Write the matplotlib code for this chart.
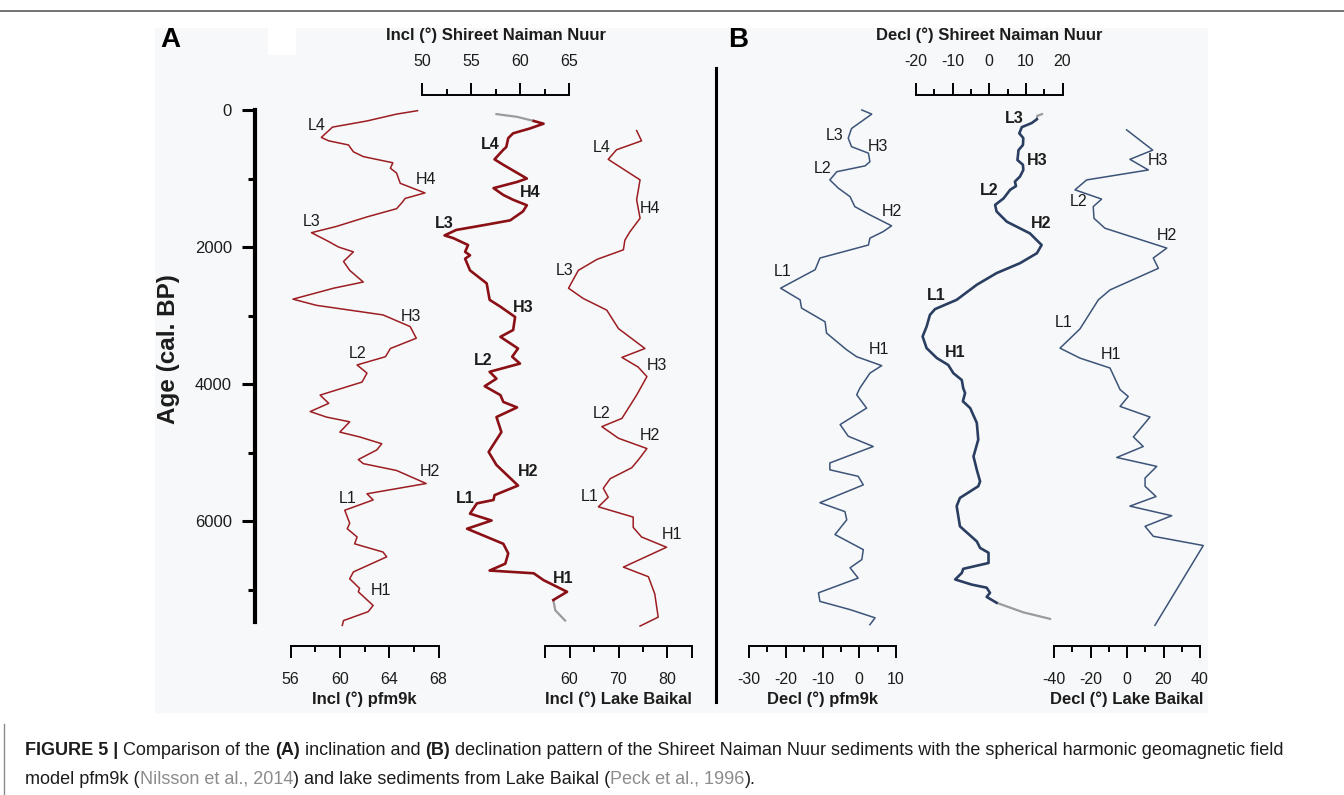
import matplotlib
matplotlib.use("Agg")
import matplotlib.pyplot as plt
from matplotlib.patches import Rectangle
from matplotlib.lines import Line2D
from matplotlib.transforms import blended_transform_factory, IdentityTransform

plt.rcParams['font.family'] = ['Liberation Sans', 'DejaVu Sans']

W, H = 1344, 795
AGE_MAX = 7500
Y_TOP, Y_BOT = 110, 624   # pixel rows of age 0 and AGE_MAX

# ---------------- data ----------------
# A: inclination, pfm9k model
pfm_incl_age = [10, 60, 160, 250, 300, 400, 450, 510, 610, 680, 770, 850, 920, 1070,
                1210, 1290, 1360, 1440, 1560, 1700, 1790, 1920, 2000, 2070, 2210, 2340,
                2510, 2600, 2760, 2850, 2990, 3160, 3330, 3480, 3600, 3720, 3840, 3970,
                4160, 4280, 4400, 4480, 4550, 4700, 4770, 4870, 4960, 5100, 5160, 5260,
                5450, 5600, 5690, 5840, 6030, 6110, 6230, 6330, 6450, 6520, 6740, 6840,
                6980, 7030, 7230, 7320, 7450, 7520]
pfm_incl = [66.3, 64.6, 62.2, 59.4, 59.1, 58.5, 59.1, 60.7, 61.1, 61.9, 64.3, 64.1, 64.6, 64.9,
            66.9, 65.3, 65.0, 64.6, 62.2, 59.7, 57.7, 59.1, 59.9, 61.1, 60.3, 60.8,
            61.9, 59.5, 56.2, 58.1, 63.5, 65.7, 66.2, 64.1, 63.7, 61.4, 62.2, 61.8,
            58.4, 59.1, 57.6, 58.9, 60.8, 60.0, 61.6, 63.4, 63.0, 61.5, 61.9, 64.6,
            67.0, 62.2, 62.7, 60.4, 60.8, 60.6, 61.4, 61.2, 63.5, 63.8, 61.1, 60.8,
            61.6, 61.5, 62.7, 62.3, 60.3, 60.2]
pfm_incl_marks = [("L4", 58.1, 220), ("H4", 67.0, 1020), ("L3", 57.7, 1630), ("H3", 65.8, 3010),
                  ("L2", 61.4, 3560), ("H2", 67.3, 5280), ("L1", 60.6, 5670), ("H1", 63.3, 7010)]

# A: inclination, Shireet Naiman Nuur
sn_incl_age = [160, 200, 270, 340, 410, 540, 580, 720, 800, 1000, 1050, 1140, 1240, 1310,
               1390, 1480, 1610, 1680, 1750, 1830, 1870, 1970, 2070, 2120, 2170, 2340,
               2530, 2770, 2870, 3020, 3210, 3310, 3480, 3600, 3700, 3820, 3920, 4030,
               4160, 4260, 4340, 4480, 4700, 4990, 5180, 5480, 5620, 5690, 5740, 5890,
               5990, 6110, 6330, 6470, 6620, 6720, 6760, 6860, 7030, 7150]
sn_incl = [61.4, 62.4, 61.0, 59.3, 58.8, 58.6, 58.3, 57.4, 58.3, 60.7, 59.7, 57.3, 58.3, 59.3,
           60.7, 60.3, 59.0, 56.3, 53.5, 52.3, 53.2, 54.7, 54.4, 54.9, 54.4, 54.9,
           56.6, 56.9, 58.0, 59.5, 59.3, 58.0, 59.8, 59.2, 60.0, 56.9, 57.6, 56.4,
           58.0, 58.3, 59.7, 57.6, 58.1, 56.8, 57.6, 59.8, 57.4, 57.3, 55.6, 54.9,
           57.1, 54.6, 58.3, 58.8, 58.5, 56.9, 61.4, 62.4, 64.8, 63.4]
sn_incl_top_age = [60, 100, 160]
sn_incl_top = [57.6, 59.7, 61.4]
sn_incl_bot_age = [7150, 7300, 7450]
sn_incl_bot = [63.4, 63.6, 64.6]
sn_incl_marks = [("L4", 57.0, 500), ("H4", 61.0, 1210), ("L3", 52.3, 1650), ("H3", 60.3, 2880),
                 ("L2", 56.2, 3660), ("H2", 60.8, 5280), ("L1", 54.4, 5670), ("H1", 64.4, 6830)]

# A: inclination, Lake Baikal
bk_incl_age = [300, 450, 580, 720, 1020, 1310, 1580, 1780, 1900, 2040, 2180, 2340, 2600,
               2750, 2920, 3190, 3480, 3610, 3750, 3890, 4160, 4500, 4620, 4790, 4940,
               5110, 5220, 5380, 5520, 5650, 5790, 5940, 6090, 6230, 6380, 6670, 6810,
               7060, 7400, 7530]
bk_incl = [73.7, 74.7, 69.6, 67.9, 74.4, 73.7, 74.4, 72.3, 71.3, 71.0, 65.6, 61.8, 59.8,
           62.8, 67.6, 70.0, 75.4, 70.7, 74.0, 75.8, 73.7, 70.7, 66.6, 70.0, 75.8,
           74.0, 72.7, 68.3, 66.9, 67.9, 65.9, 73.0, 73.0, 74.7, 79.8, 71.0, 76.1,
           77.4, 78.1, 74.4]
bk_incl_marks = [("L4", 66.6, 540), ("H4", 76.4, 1440), ("L3", 59.1, 2340), ("H3", 77.8, 3730),
                 ("L2", 66.6, 4430), ("H2", 76.4, 4750), ("L1", 64.2, 5640), ("H1", 80.9, 6190)]

# B: declination, pfm9k model
pfm_decl_age = [0, 60, 270, 410, 535, 630, 755, 815, 900, 1020, 1140, 1265, 1410, 1530,
                1690, 1775, 1870, 1970, 2160, 2330, 2600, 2770, 2890, 3090, 3255, 3500,
                3600, 3730, 3840, 4055, 4155, 4350, 4590, 4760, 4910, 5150, 5250, 5345,
                5470, 5730, 5860, 5980, 6195, 6415, 6560, 6680, 6830, 7045, 7170, 7290,
                7410, 7510]
pfm_decl = [0.7, 3.4, -2.1, -3.0, -2.1, 2.5, 2.9, 1.6, -6.1, -8.0, -5.7, -2.5, -1.2, 2.9,
            8.8, 6.5, 2.9, 2.5, -10.7, -12.0, -21.4, -16.1, -15.7, -9.3, -8.9, -3.4,
            -0.7, 6.1, 2.9, 0.2, -0.7, 2.0, -5.2, -3.0, 3.8, -8.0, -8.0, -0.3,
            1.1, -10.7, -3.9, -3.4, -6.6, 1.1, 0.7, -2.5, -0.3, -11.1, -10.7, -2.5,
            4.3, 2.9]
pfm_decl_marks = [("L3", -6.6, 365), ("H3", 5.2, 535), ("L2", -9.9, 850), ("H2", 9.0, 1480),
                  ("L1", -20.8, 2360), ("H1", 5.4, 3500)]

# B: declination, Shireet Naiman Nuur
sn_decl_age = [135, 190, 250, 340, 410, 510, 585, 730, 800, 875, 970, 1045, 1110, 1165,
               1290, 1385, 1480, 1630, 1800, 1970, 2090, 2235, 2380, 2550, 2770, 2905,
               2990, 3160, 3305, 3475, 3620, 3720, 3840, 3940, 4060, 4130, 4250, 4350,
               4565, 4810, 5055, 5250, 5420, 5490, 5660, 5780, 6075, 6295, 6390, 6460,
               6610, 6695, 6755, 6850, 6925, 6970, 7045, 7105, 7190]
sn_decl = [13.0, 11.6, 8.9, 8.2, 9.3, 9.2, 8.0, 7.7, 9.2, 9.3, 8.4, 7.0, 7.3, 5.7,
           3.9, 1.6, 2.0, 4.8, 11.1, 14.3, 13.0, 8.4, 2.0, -3.4, -8.9, -14.8,
           -16.2, -17.1, -18.2, -17.1, -14.3, -11.2, -9.8, -7.5, -7.1, -6.6, -7.2, -5.2,
           -3.4, -3.0, -4.3, -3.4, -2.5, -3.0, -8.0, -8.9, -8.0, -3.4, -2.5, -0.2,
           -0.2, -7.1, -7.5, -9.3, -4.8, -0.7, 0.2, -0.7, 2.0]
sn_decl_top_age = [60, 85, 135]
sn_decl_top = [14.4, 13.1, 13.0]
sn_decl_bot_age = [7190, 7330, 7425]
sn_decl_bot = [2.0, 9.3, 16.6]
sn_decl_marks = [("L3", 6.9, 120), ("H3", 13.0, 730), ("L2", 0.0, 1175), ("H2", 14.2, 1650),
                 ("L1", -14.6, 2705), ("H1", -9.2, 3540)]

# B: declination, Lake Baikal
bk_decl_age = [290, 585, 720, 875, 1020, 1165, 1300, 1410, 1580, 1725, 2015, 2160, 2310,
               2625, 2770, 3195, 3475, 3620, 3765, 4080, 4180, 4325, 4480, 4770, 4910,
               5070, 5200, 5370, 5490, 5640, 5780, 5920, 6075, 6220, 6355, 7520]
bk_decl = [-0.2, 14.1, 1.6, 11.7, -22.1, -28.5, -13.9, -18.5, -18.1, -12.1, 21.8, 14.4, 17.2,
           -9.3, -15.7, -25.8, -36.7, -25.8, -9.3, -3.8, 0.7, -3.8, 12.6, 3.5, 8.9,
           -5.6, 16.3, 9.9, 9.9, 15.9, 1.6, 24.5, 9.9, 14.4, 41.8, 15.3]
bk_decl_marks = [("H3", 17.2, 740), ("L2", -26.7, 1335), ("H2", 21.8, 1830),
                 ("L1", -34.9, 3100), ("H1", -8.8, 3570)]

age_major = [0, 2000, 4000, 6000]
age_minor = [1000, 3000, 5000, 7000]

RED_THIN = '#9c1d22'
RED_THICK = '#8a1016'
BLUE_THIN = '#3c5479'
BLUE_THICK = '#2a3e61'
GRAY = '#9b9b9b'
TXT = '#1c1c1c'

fig = plt.figure(figsize=(W / 100, H / 100), dpi=100)

# background panel, rules
fig.add_artist(Rectangle((155 / W, 1 - 713 / H), (1208 - 155) / W, (713 - 28) / H,
                         transform=fig.transFigure, facecolor='#f7f8f9', edgecolor='none', zorder=-10))
fig.add_artist(Rectangle((268 / W, 1 - 55 / H), 28 / W, 27 / H,
                         transform=fig.transFigure, facecolor='white', edgecolor='none', zorder=-9))
fig.add_artist(Line2D([0, 1], [1 - 11 / H] * 2, transform=fig.transFigure, color='#5a5a5a', lw=1.2))
fig.add_artist(Line2D([4 / W] * 2, [1 - 724 / H, 0], transform=fig.transFigure, color='#8a8a8a', lw=1.0))
fig.add_artist(Line2D([716 / W] * 2, [1 - 68 / H, 1 - 702 / H], transform=fig.transFigure,
                      color='black', lw=2.2))

fig.text(170 / W, 1 - 40 / H, "A", fontsize=20, fontweight='bold', ha='center', va='center')
fig.text(738 / W, 1 - 40 / H, "B", fontsize=20, fontweight='bold', ha='center', va='center')


def curve_axes(x0, x1, lo, hi, side, major, minor, labels, title):
    ax = fig.add_axes([x0 / W, 1 - Y_BOT / H, (x1 - x0) / W, (Y_BOT - Y_TOP) / H])
    ax.set_xlim(lo, hi)
    ax.set_ylim(AGE_MAX, 0)
    ax.patch.set_visible(False)
    for s in ax.spines.values():
        s.set_visible(False)
    ax.set_yticks([])
    sp = ax.spines[side]
    sp.set_visible(True)
    sp.set_linewidth(1.4)
    if side == 'top':
        sp.set_position(('outward', 11))
        ax.xaxis.set_ticks_position('top')
        ax.xaxis.set_label_position('top')
        pad, lpad = 10, 10
    else:
        sp.set_position(('outward', 15.5))
        pad, lpad = 10.5, 3.5
    ax.set_xticks(major)
    ax.set_xticklabels(labels)
    ax.set_xticks(minor, minor=True)
    ax.tick_params(axis='x', which='major', length=8.5, width=1.4, pad=pad, labelsize=11.5,
                   labelcolor=TXT)
    ax.tick_params(axis='x', which='minor', length=4.5, width=1.4)
    ax.set_xlabel(title, fontsize=12, fontweight='bold', labelpad=lpad, color=TXT)
    return ax


def put_marks(ax, marks, bold):
    for name, v, a in marks:
        ax.text(v, a, name, fontsize=11.5, fontweight='bold' if bold else 'normal',
                ha='center', va='center', color=TXT, clip_on=False)


# age axis
ax_age = fig.add_axes([255 / W, 1 - Y_BOT / H, 2 / W, (Y_BOT - Y_TOP) / H])
ax_age.set_ylim(AGE_MAX, 0)
ax_age.patch.set_visible(False)
for k in ['top', 'right', 'bottom']:
    ax_age.spines[k].set_visible(False)
ax_age.spines['left'].set_linewidth(3)
ax_age.spines['left'].set_bounds(0, 7470)
ax_age.set_xticks([])
ax_age.set_yticks(age_major)
ax_age.set_yticks(age_minor, minor=True)
ax_age.tick_params(axis='y', which='major', length=9.5, width=2.2, pad=7, labelsize=12,
                   labelcolor=TXT)
ax_age.tick_params(axis='y', which='minor', length=5, width=2.2)
ax_age.set_ylabel("Age (cal. BP)", fontsize=17.5, fontweight='bold', color=TXT)
ax_age.yaxis.set_label_coords(180, 0.535,
                              transform=blended_transform_factory(IdentityTransform(), ax_age.transAxes))

# panel A
ax1 = curve_axes(290.5, 438.5, 56, 68, 'bottom', [56, 60, 64, 68], [58, 62, 66],
                 ['56', '60', '64', '68'], "Incl (°) pfm9k")
ax1.plot(pfm_incl, pfm_incl_age, color=RED_THIN, lw=1.1, clip_on=False)
put_marks(ax1, pfm_incl_marks, False)

ax2 = curve_axes(422, 569, 50, 65, 'top', [50, 55, 60, 65], [52.5, 57.5, 62.5],
                 ['50', '55', '60', '65'], "Incl (°) Shireet Naiman Nuur")
ax2.plot(sn_incl_top, sn_incl_top_age, color=GRAY, lw=1.6, clip_on=False)
ax2.plot(sn_incl_bot, sn_incl_bot_age, color=GRAY, lw=1.6, clip_on=False)
ax2.plot(sn_incl, sn_incl_age, color=RED_THICK, lw=1.9, clip_on=False)
put_marks(ax2, sn_incl_marks, True)

ax3 = curve_axes(545, 692, 55, 85, 'bottom', [55, 60, 70, 80, 85], [65, 75],
                 ['', '60', '70', '80', ''], "Incl (°) Lake Baikal")
ax3.plot(bk_incl, bk_incl_age, color=RED_THIN, lw=1.1, clip_on=False)
put_marks(ax3, bk_incl_marks, False)

# panel B
ax4 = curve_axes(749, 896, -30, 10, 'bottom', [-30, -20, -10, 0, 10], [-25, -15, -5, 5],
                 ['-30', '-20', '-10', '0', '10'], "Decl (°) pfm9k")
ax4.plot(pfm_decl, pfm_decl_age, color=BLUE_THIN, lw=1.1, clip_on=False)
put_marks(ax4, pfm_decl_marks, False)

ax5 = curve_axes(916, 1062.5, -20, 20, 'top', [-20, -10, 0, 10, 20], [-15, -5, 5, 15],
                 ['-20', '-10', '0', '10', '20'], "Decl (°) Shireet Naiman Nuur")
ax5.plot(sn_decl_top, sn_decl_top_age, color=GRAY, lw=1.6, clip_on=False)
ax5.plot(sn_decl_bot, sn_decl_bot_age, color=GRAY, lw=1.6, clip_on=False)
ax5.plot(sn_decl, sn_decl_age, color=BLUE_THICK, lw=1.9, clip_on=False)
put_marks(ax5, sn_decl_marks, True)

ax6 = curve_axes(1054, 1200, -40, 40, 'bottom', [-40, -20, 0, 20, 40], [-30, -10, 10, 30],
                 ['-40', '-20', '0', '20', '40'], "Decl (°) Lake Baikal")
ax6.plot(bk_decl, bk_decl_age, color=BLUE_THIN, lw=1.1, clip_on=False)
put_marks(ax6, bk_decl_marks, False)

# caption, drawn run by run
renderer = fig.canvas.get_renderer()
CITE = '#8c8c8c'
cap_lines = [
    (755, [("FIGURE 5 |", 'bold', TXT), (" Comparison of the ", 'normal', TXT), ("(A)", 'bold', TXT),
           (" inclination and ", 'normal', TXT), ("(B)", 'bold', TXT),
           (" declination pattern of the Shireet Naiman Nuur sediments with the spherical harmonic geomagnetic field",
            'normal', TXT)]),
    (784, [("model pfm9k (", 'normal', TXT), ("Nilsson et al., 2014", 'normal', CITE),
           (") and lake sediments from Lake Baikal (", 'normal', TXT), ("Peck et al., 1996", 'normal', CITE),
           (").", 'normal', TXT)]),
]
for ypix, runs in cap_lines:
    x = 25
    for txt, wt, col in runs:
        t = fig.text(x / W, 1 - ypix / H, txt, fontsize=13, fontweight=wt, color=col,
                     ha='left', va='baseline')
        x += t.get_window_extent(renderer=renderer).width

fig.savefig("out.png", dpi=100)
